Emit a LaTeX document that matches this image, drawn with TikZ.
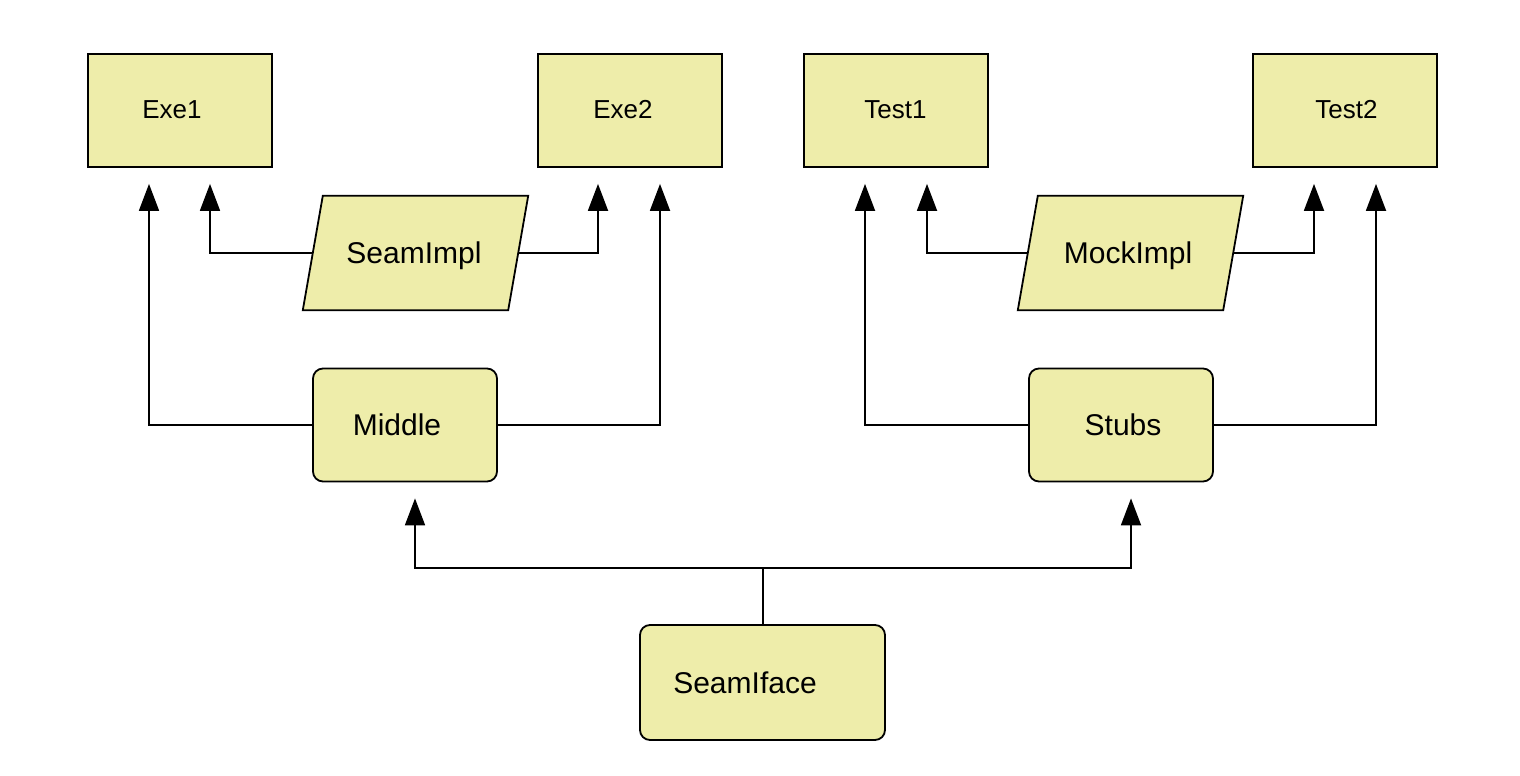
\documentclass[tikz,border=0pt]{standalone}
\usepackage{fontspec}
\setmainfont{Liberation Sans}
\usetikzlibrary{arrows.meta,calc}
\definecolor{boxfill}{HTML}{EEEDAA}
\tikzset{
  box/.style={draw=black, fill=boxfill, line width=1.8pt, minimum width=184pt, minimum height=113pt, inner sep=0pt},
  rbox/.style={box, rounded corners=10pt},
  ghost/.style={minimum width=205pt, minimum height=114pt, inner sep=0pt},
  para/.style={draw=black, fill=boxfill, line width=1.8pt},
  lbl/.style={font=\fontsize{30}{36}\selectfont, inner sep=0pt, text height=21.5pt, text depth=0pt},
  lblsmall/.style={font=\fontsize{26}{31}\selectfont, inner sep=0pt, text height=18.6pt, text depth=0pt},
  conn/.style={draw=black, line width=1.8pt},
  arr/.style={conn, -{Triangle[length=27pt,width=20pt]}, shorten >=16pt},
}
\begin{document}
\begin{tikzpicture}[x=1pt,y=-1pt]
\useasboundingbox (0,0) rectangle (1520,776);

% top boxes
\node[box] (exe1) at (180,110.5) {};
\node[lblsmall] (exe1t) at (172,109) {Exe1};
\node[box] (exe2) at (630,110.5) {};
\node[lblsmall] (exe2t) at (623,109) {Exe2};
\node[box] (test1) at (896,110.5) {};
\node[lblsmall] (test1t) at (895.5,109) {Test1};
\node[box] (test2) at (1345,110.5) {};
\node[lblsmall] (test2t) at (1346.5,109) {Test2};

% parallelograms
\node[ghost] (seamimpl) at (415.5,253) {};
\draw[para] ($(seamimpl.north west)+(10,0)$) -- ($(seamimpl.north east)+(10,0)$)
  -- ($(seamimpl.south east)+(-10,0)$) -- ($(seamimpl.south west)+(-10,0)$) -- cycle;
\node[lbl] (seamimplt) at (414,253) {SeamImpl};

\node[ghost] (mockimpl) at (1130.5,253) {};
\draw[para] ($(mockimpl.north west)+(10,0)$) -- ($(mockimpl.north east)+(10,0)$)
  -- ($(mockimpl.south east)+(-10,0)$) -- ($(mockimpl.south west)+(-10,0)$) -- cycle;
\node[lbl] (mockimplt) at (1128,253) {MockImpl};

% middle row
\node[rbox] (middle) at (405,425) {};
\node[lbl] (middlet) at (397,425) {Middle};
\node[rbox] (stubs) at (1121,425) {};
\node[lbl] (stubst) at (1123,425) {Stubs};

% bottom
\node[rbox, minimum width=245pt, minimum height=115pt] (seamiface) at (762.5,682.5) {};
\node[lbl] (seamifacet) at (745,683) {SeamIface};

% connectors
\draw[arr] (middle.west) -| ([xshift=-31pt]exe1.south);
\draw[arr] (seamimpl.west) -| ([xshift=30pt]exe1.south);
\draw[arr] (seamimpl.east) -| ([xshift=-32pt]exe2.south);
\draw[arr] (middle.east) -| ([xshift=30pt]exe2.south);

\draw[arr] (stubs.west) -| ([xshift=-31pt]test1.south);
\draw[arr] (mockimpl.west) -| ([xshift=31pt]test1.south);
\draw[arr] (mockimpl.east) -| ([xshift=-31pt]test2.south);
\draw[arr] (stubs.east) -| ([xshift=31pt]test2.south);

\coordinate (j) at (763,568);
\draw[conn] (seamiface.north) ++(0.5,0) -- (j);
\draw[arr] (j) -| ([xshift=10pt]middle.south);
\draw[arr] (j) -| ([xshift=10pt]stubs.south);
\end{tikzpicture}
\end{document}
